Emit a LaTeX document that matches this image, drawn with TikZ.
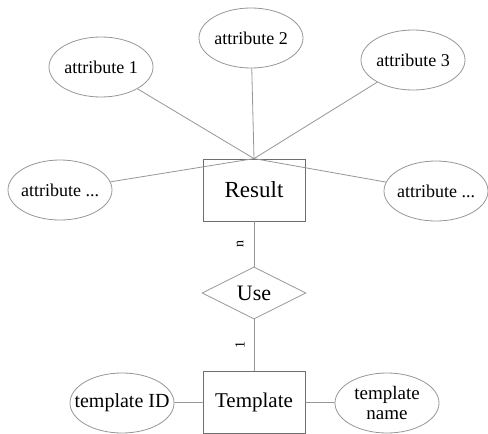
\documentclass[tikz,border=0pt]{standalone}
\usepackage{fontspec}
\setmainfont{Liberation Serif}
\usepackage{tikz}
\usetikzlibrary{shapes.geometric}
\definecolor{lineGray}{RGB}{150,150,150}
\definecolor{boxGray}{RGB}{110,110,110}
\tikzset{
  attr/.style={ellipse,draw=lineGray,thick,inner xsep=-16pt,inner ysep=0pt,minimum width=104pt,minimum height=60pt,font=\fontsize{18}{19}\selectfont,align=center},
  entity/.style={rectangle,draw=boxGray,thick,inner sep=0pt,minimum width=102pt,minimum height=62pt,font=\fontsize{21}{24}\selectfont},
  relation/.style={diamond,draw=lineGray,thick,inner sep=0pt,minimum width=104pt,minimum height=52pt,font=\fontsize{22}{24}\selectfont},
  link/.style={draw=lineGray,thick},
  card/.style={font=\fontsize{14}{15}\selectfont,inner sep=0pt}
}

\begin{document}
\begin{tikzpicture}[x=1pt,y=-1pt]
    \useasboundingbox (0,0) rectangle (488,434);
    \node[entity,font=\fontsize{23}{24}\selectfont] (res) at (254,190) {Result};
    \node[relation] (use) at (254,293) {Use};
    \node[entity] (tpl) at (254,402) {Template};
    \node[attr] (a1) at (101,67) {attribute 1};
    \node[attr] (a2) at (251,38) {attribute 2};
    \node[attr] (a3) at (413,60) {attribute 3};
    \node[attr] (aL) at (60,190) {attribute ...};
    \node[attr] (aR) at (436,191) {attribute ...};
    \node[attr,font=\fontsize{20}{21}\selectfont] (tid) at (122,403) {template ID};
    \node[attr,font=\fontsize{19}{20}\selectfont] (tname) at (387,403) {template\\name};
    \foreach \a in {a1,a2,a3,aL,aR}
      \draw[link] (\a) -- (res.north);
    \draw[link] (res) -- node[midway,xshift=-14pt,rotate=90,card] {n} (use);
    \draw[link] (use) -- node[midway,xshift=-14pt,rotate=90,card] {1} (tpl);
    \draw[link] (tid) -- (tpl);
    \draw[link] (tpl) -- (tname);
  \end{tikzpicture}
\end{document}
